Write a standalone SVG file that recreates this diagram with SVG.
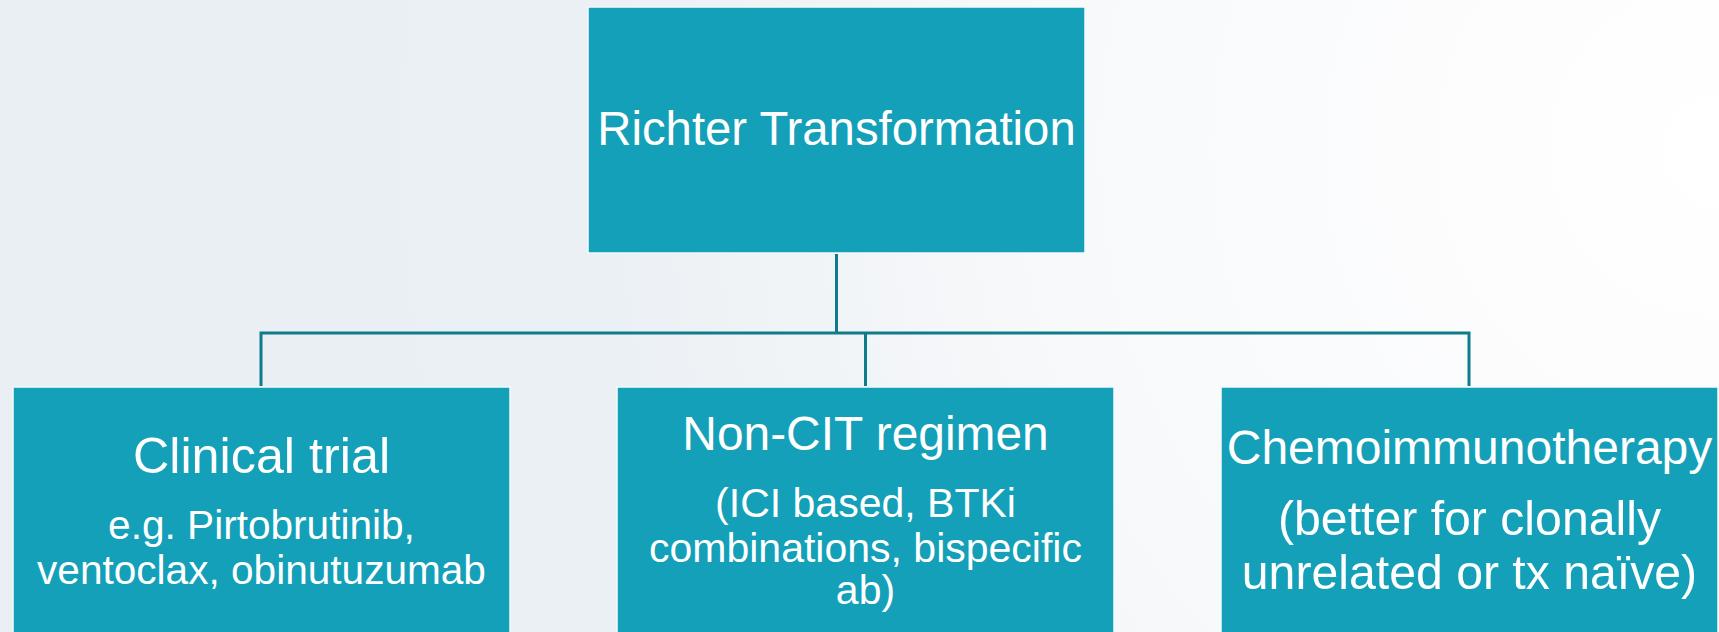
<svg xmlns="http://www.w3.org/2000/svg" width="1719" height="632" viewBox="0 0 1719 632">
  <defs>
    <radialGradient id="bg" gradientUnits="userSpaceOnUse" cx="1719" cy="150" r="1500">
      <stop offset="0" stop-color="#ffffff"/>
      <stop offset="0.45" stop-color="#f8f9fb"/>
      <stop offset="0.75" stop-color="#ebf0f4"/>
      <stop offset="1" stop-color="#eaeff3"/>
    </radialGradient>
    <style>
      .box { fill: #13a0b8; stroke: #f4fafc; stroke-width: 1.5; }
      .conn { fill: none; stroke: #0f7c8c; stroke-width: 3; }
      .t { fill: #ffffff; font-family: "Liberation Sans", Arial, sans-serif; text-anchor: middle; }
    </style>
  </defs>
  <rect x="0" y="0" width="1719" height="632" fill="url(#bg)"/>

  <g id="connectors">
    <path class="conn" d="M836.5 254 V333"/>
    <path class="conn" d="M261 386 V333 H1469 V386"/>
    <path class="conn" d="M865.5 333 V386"/>
  </g>

  <g id="node-richter">
    <rect class="box" x="588" y="7" width="497" height="246"/>
    <text class="t" x="836.5" y="145" font-size="47.3">Richter Transformation</text>
  </g>

  <g id="node-clinical-trial">
    <rect class="box" x="13" y="387" width="497" height="250"/>
    <text class="t" x="261.5" y="473" font-size="50.3">Clinical trial</text>
    <text class="t" x="261.5" y="539" font-size="40.6">e.g. Pirtobrutinib,</text>
    <text class="t" x="261.5" y="584" font-size="40.6">ventoclax, obinutuzumab</text>
  </g>

  <g id="node-non-cit">
    <rect class="box" x="617" y="387" width="497" height="250"/>
    <text class="t" x="865.5" y="450" font-size="47.9">Non-CIT regimen</text>
    <text class="t" x="865.5" y="517" font-size="41">(ICI based, BTKi</text>
    <text class="t" x="865.5" y="562" font-size="41">combinations, bispecific</text>
    <text class="t" x="865.5" y="604" font-size="41">ab)</text>
  </g>

  <g id="node-chemo">
    <rect class="box" x="1221" y="387" width="497" height="250"/>
    <text class="t" x="1469.5" y="464" font-size="48">Chemoimmunotherapy</text>
    <text class="t" x="1469.5" y="535" font-size="48.2">(better for clonally</text>
    <text class="t" x="1469.5" y="589" font-size="48.2">unrelated or tx naïve)</text>
  </g>
</svg>
